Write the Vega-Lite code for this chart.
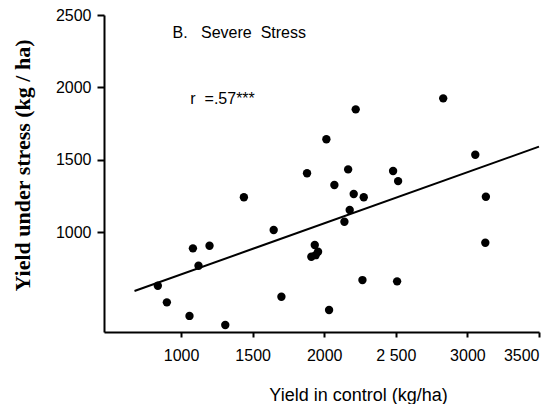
{
  "$schema": "https://vega.github.io/schema/vega-lite/v6.json",
  "autosize": "none",
  "width": 435,
  "height": 317,
  "padding": {"left": 104, "top": 15, "right": 20, "bottom": 72},
  "background": "white",
  "config": {"view": {"stroke": null}},
  "datasets": {
    "points": [
      {"control": 2831, "stress": 1924},
      {"control": 2220, "stress": 1848},
      {"control": 2015, "stress": 1641},
      {"control": 3055, "stress": 1534},
      {"control": 1880, "stress": 1406},
      {"control": 2167, "stress": 1433},
      {"control": 2481, "stress": 1422},
      {"control": 2516, "stress": 1352},
      {"control": 2071, "stress": 1325},
      {"control": 1439, "stress": 1240},
      {"control": 2206, "stress": 1263},
      {"control": 2276, "stress": 1240},
      {"control": 3129, "stress": 1244},
      {"control": 2178, "stress": 1152},
      {"control": 2141, "stress": 1071},
      {"control": 1647, "stress": 1014},
      {"control": 3125, "stress": 926},
      {"control": 1934, "stress": 910},
      {"control": 1957, "stress": 864},
      {"control": 1910, "stress": 829},
      {"control": 1940, "stress": 840},
      {"control": 1083, "stress": 887},
      {"control": 1199, "stress": 905},
      {"control": 1122, "stress": 767},
      {"control": 838, "stress": 629},
      {"control": 901, "stress": 514},
      {"control": 1059, "stress": 420},
      {"control": 1309, "stress": 357},
      {"control": 1701, "stress": 553},
      {"control": 2267, "stress": 668},
      {"control": 2509, "stress": 659},
      {"control": 2034, "stress": 461}
    ],
    "fit": [
      {"control": 675, "stress": 592},
      {"control": 3500, "stress": 1590}
    ],
    "labels": [
      {"control": 941, "stress": 2375, "label": "B.\u00a0\u00a0\u00a0Severe\u00a0\u00a0Stress"},
      {"control": 1065, "stress": 1919, "label": "r\u00a0\u00a0=.57***"}
    ]
  },
  "layer": [
    {
      "data": {"name": "fit"},
      "mark": {"type": "line", "color": "black", "strokeWidth": 2},
      "encoding": {
        "x": {
          "field": "control", "type": "quantitative",
          "scale": {"domain": [462, 3500], "nice": false, "zero": false},
          "axis": {
            "values": [1000, 1500, 2000, 2500, 3000, 3500],
            "labelExpr": "datum.value == 2500 ? '2\u00a0500' : datum.label",
            "format": "d",
            "title": "Yield in control (kg/ha)",
            "titleFont": "Liberation Sans", "titleFontSize": 18, "titleFontWeight": "normal",
            "titleColor": "black", "titleX": 254, "titleY": 68, "titleBaseline": "alphabetic", "titleAlign": "center",
            "labelFont": "Liberation Sans", "labelFontSize": 16, "labelColor": "black", "labelPadding": 10,
            "domainColor": "black", "domainWidth": 2, "tickColor": "black", "tickWidth": 2, "tickSize": 5,
            "grid": false
          }
        },
        "y": {
          "field": "stress", "type": "quantitative",
          "scale": {"domain": [309, 2500], "nice": false, "zero": false},
          "axis": {
            "values": [1000, 1500, 2000, 2500],
            "format": "d",
            "title": "Yield under stress (kg / ha)",
            "titleFont": "Liberation Serif", "titleFontSize": 22, "titleFontWeight": "bold",
            "titleColor": "black", "titleX": -82, "titleY": 150, "titleBaseline": "middle", "titleAlign": "center", "titleAngle": -90,
            "labelFont": "Liberation Sans", "labelFontSize": 16, "labelColor": "black", "labelPadding": 6,
            "domainColor": "black", "domainWidth": 2, "tickColor": "black", "tickWidth": 2, "tickSize": 7,
            "grid": false
          }
        }
      }
    },
    {
      "data": {"name": "points"},
      "mark": {"type": "circle", "color": "black", "opacity": 1, "size": 70},
      "encoding": {
        "x": {"field": "control", "type": "quantitative"},
        "y": {"field": "stress", "type": "quantitative"}
      }
    },
    {
      "data": {"name": "labels"},
      "mark": {"type": "text", "align": "left", "baseline": "middle", "font": "Liberation Sans", "fontSize": 16, "color": "black"},
      "encoding": {
        "x": {"field": "control", "type": "quantitative"},
        "y": {"field": "stress", "type": "quantitative"},
        "text": {"field": "label"}
      }
    }
  ]
}
